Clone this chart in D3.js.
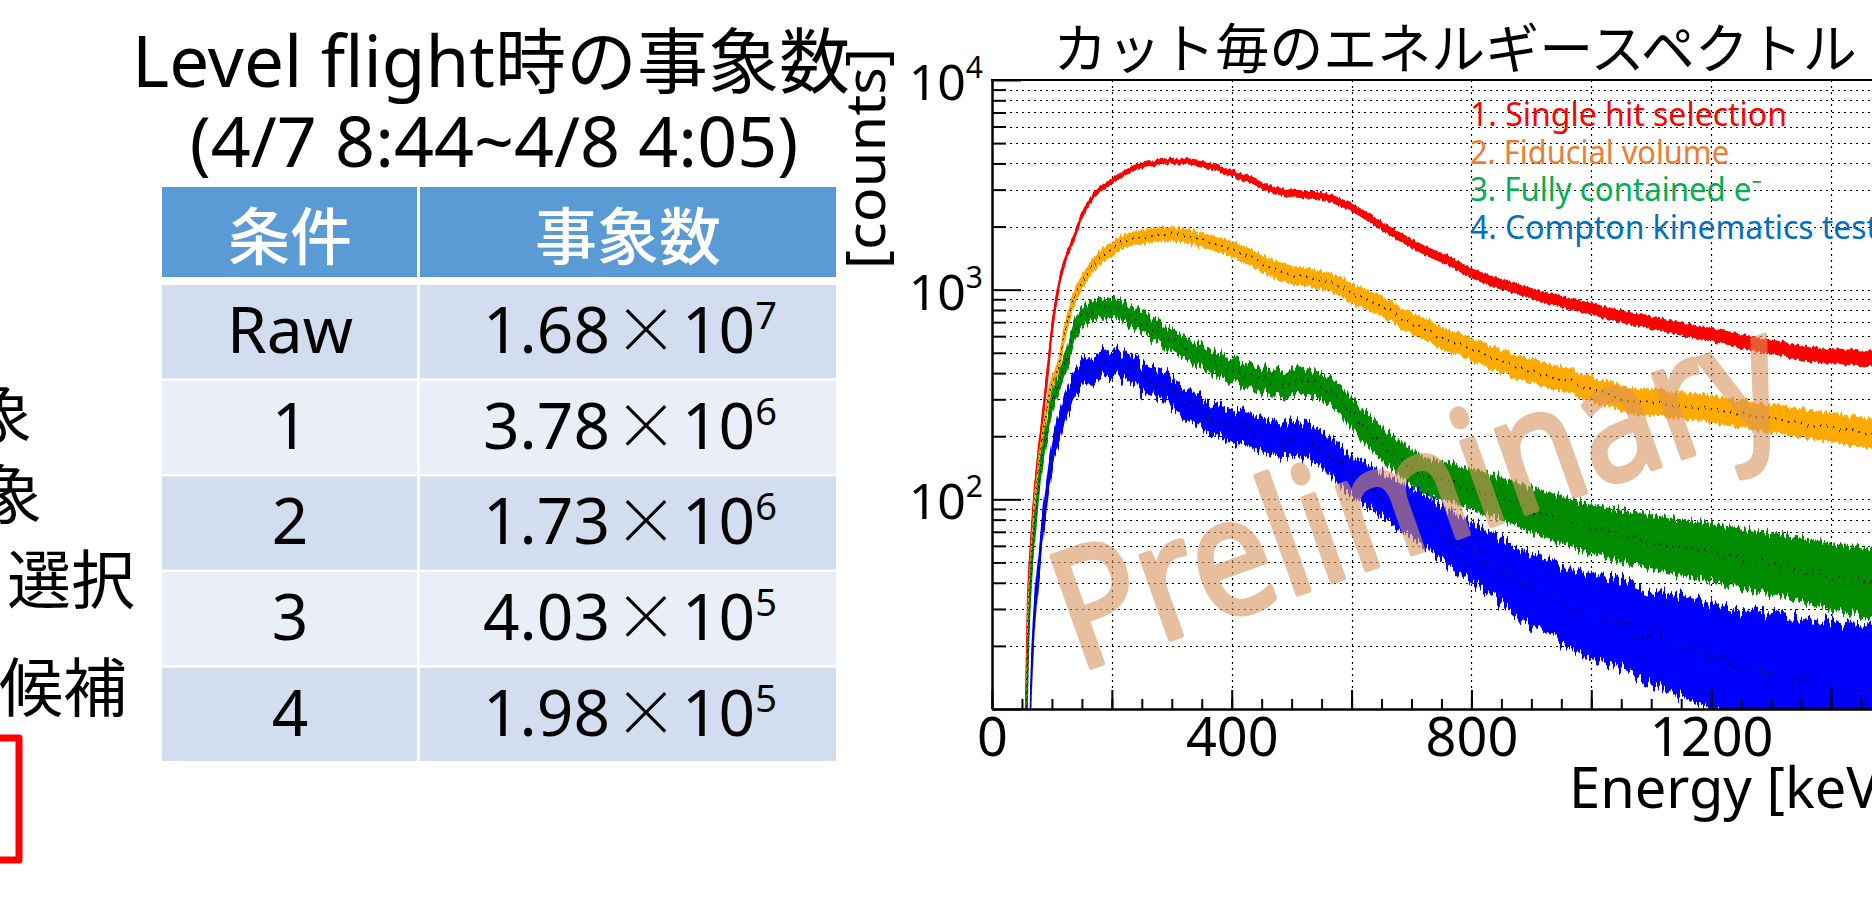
<!DOCTYPE html>
<html>
<head>
<meta charset="utf-8">
<script src="https://cdn.jsdelivr.net/npm/d3@7"></script>
<style>
  body { margin: 0; background: #fff; }
  svg { display: block; }
</style>
</head>
<body>
<svg id="slide" width="1872" height="900"></svg>
<script>
// ---- table values ----
var conditions = ["Raw", "1", "2", "3", "4"];
var countMantissa = ["1.68", "3.78", "1.73", "4.03", "1.98"];
var countExponent = ["7", "6", "6", "5", "5"];
var tableHeaders = ["条件", "事象数"];
var sideNotes = ["象", "象", "選択", "候補"];

// ---- spectra (keV, counts per bin) ----
var energies = [55, 60, 65, 70, 80, 90, 100, 110, 120, 135, 150, 165, 180, 200, 220, 250, 280, 310, 340, 370,
                400, 430, 460, 490, 520, 550, 580, 610, 640, 680, 720, 760, 800, 850, 900, 950, 1000, 1050, 1100, 1150,
                1200, 1250, 1300, 1350, 1400, 1450, 1480];
var singleHit = [5, 31, 60, 98, 190, 340, 640, 1000, 1330, 1720, 2250, 2700, 3000, 3300, 3580, 3950, 4070, 4080, 4000, 3850,
                 3580, 3330, 3050, 2900, 2850, 2800, 2620, 2380, 2100, 1790, 1550, 1380, 1200, 1060, 960, 875, 810, 745, 695, 650,
                 610, 570, 535, 500, 485, 470, 460];
var fiducial = [3, 25, 50, 85, 160, 250, 360, 420, 600, 880, 1080, 1260, 1420, 1560, 1700, 1780, 1840, 1830, 1760, 1660,
                1560, 1430, 1290, 1200, 1150, 1110, 1040, 930, 860, 745, 650, 575, 520, 458, 412, 373, 337, 305, 288, 280,
                268, 255, 243, 232, 220, 209, 204];
var fullyContained = [3, 18, 40, 65, 130, 200, 280, 350, 420, 600, 740, 790, 800, 810, 770, 700, 620, 545, 500, 455,
                      415, 385, 365, 350, 365, 345, 300, 240, 195, 158, 130, 122, 112, 101, 89, 80, 72, 67, 63, 59,
                      56, 52, 49, 46, 43, 41, 40];
var comptonTest = [2, 3, 12, 25, 55, 100, 160, 215, 270, 340, 390, 415, 445, 455, 430, 375, 350, 315, 270, 240,
                   222, 210, 200, 195, 190, 175, 145, 125, 110, 93, 80, 66, 56, 46, 37, 32, 28, 25, 22, 20,
                   18, 16, 15, 14, 13, 12.3, 12];
// half width of the noisy band, in decades
var singleHitSpread = [0.01, 0.01, 0.01, 0.01, 0.01, 0.01, 0.01, 0.01, 0.01, 0.01, 0.01, 0.01, 0.01, 0.01, 0.01, 0.01, 0.01, 0.01, 0.012, 0.012,
                       0.012, 0.014, 0.014, 0.014, 0.015, 0.015, 0.016, 0.016, 0.017, 0.018, 0.018, 0.02, 0.02, 0.022, 0.022, 0.024, 0.025, 0.026, 0.027, 0.028,
                       0.028, 0.03, 0.03, 0.032, 0.032, 0.034, 0.034];
var fiducialSpread = [0.03, 0.03, 0.03, 0.03, 0.03, 0.03, 0.03, 0.03, 0.03, 0.03, 0.03, 0.03, 0.03, 0.03, 0.03, 0.03, 0.03, 0.03, 0.03, 0.032,
                      0.034, 0.036, 0.038, 0.04, 0.04, 0.04, 0.042, 0.044, 0.045, 0.046, 0.048, 0.05, 0.05, 0.052, 0.054, 0.055, 0.056, 0.058, 0.06, 0.06,
                      0.062, 0.062, 0.064, 0.065, 0.066, 0.068, 0.068];
var fullyContainedSpread = [0.04, 0.04, 0.04, 0.04, 0.04, 0.04, 0.04, 0.04, 0.045, 0.045, 0.045, 0.045, 0.045, 0.045, 0.045, 0.048, 0.05, 0.05, 0.05, 0.052,
                            0.055, 0.055, 0.058, 0.06, 0.06, 0.06, 0.065, 0.07, 0.075, 0.08, 0.085, 0.09, 0.095, 0.1, 0.105, 0.11, 0.115, 0.12, 0.125, 0.13,
                            0.135, 0.14, 0.145, 0.15, 0.155, 0.16, 0.16];
var comptonTestSpread = [0.05, 0.05, 0.05, 0.05, 0.05, 0.055, 0.055, 0.06, 0.06, 0.06, 0.06, 0.06, 0.06, 0.06, 0.06, 0.065, 0.065, 0.07, 0.07, 0.07,
                         0.075, 0.075, 0.08, 0.08, 0.08, 0.085, 0.09, 0.095, 0.1, 0.11, 0.12, 0.13, 0.14, 0.15, 0.17, 0.18, 0.2, 0.21, 0.22, 0.24,
                         0.25, 0.26, 0.28, 0.29, 0.3, 0.3, 0.3];

var legendLabels = ["1. Single hit selection", "2. Fiducial volume", "3. Fully contained e\u207B", "4. Compton kinematics test"];
var legendColors = ["#ff0000", "#ed7d31", "#00b050", "#0070c0"];

// ticks
var yTicksMajor = [100, 1000, 10000];
var yTicksMinor = [20, 30, 40, 50, 60, 70, 80, 90, 200, 300, 400, 500, 600, 700, 800, 900, 2000, 3000, 4000, 5000, 6000, 7000, 8000, 9000];
var xTicksMajor = [0, 200, 400, 600, 800, 1000, 1200, 1400, 1600, 1800, 2000];
var xTicksMinor = d3.range(0, 2001, 50);
var xTickLabels = [0, 400, 800, 1200, 1600];

var cjk = "'Noto Sans CJK JP', sans-serif";
var latin = "'Noto Sans', 'Noto Sans CJK JP', sans-serif";

var svg = d3.select("#slide");
svg.append("rect").attr("width", 1872).attr("height", 900).attr("fill", "#fff");
var defs = svg.append("defs");

// ---------------- left part: text fragments + table ----------------
var noteRight = [32, 42, 135, 127];
var noteBase = [437, 518, 603, 711];
svg.append("g")
    .attr("font-family", cjk)
    .attr("font-size", 64)
    .attr("text-anchor", "end")
  .selectAll("text")
  .data(sideNotes)
  .enter()
  .append("text")
    .attr("x", (d, i) => noteRight[i])
    .attr("y", (d, i) => noteBase[i])
    .text(d => d);

svg.append("path")
    .attr("d", "M0,738H19V860H0")
    .attr("fill", "none")
    .attr("stroke", "#ff0000")
    .attr("stroke-width", 7)
    .attr("stroke-linejoin", "round");

svg.append("text")
    .attr("x", 491)
    .attr("y", 87)
    .attr("text-anchor", "middle")
    .attr("font-family", latin)
    .attr("font-size", 71)
    .text("Level flight時の事象数");

svg.append("text")
    .attr("x", 494)
    .attr("y", 167)
    .attr("text-anchor", "middle")
    .attr("font-family", latin)
    .attr("font-size", 70)
    .text("(4/7 8:44~4/8 4:05)");

var colX = [162, 420];
var colW = [255, 416];
var colMid = [290, 628];

var table = svg.append("g");

table.selectAll(".head")
  .data(tableHeaders)
  .enter()
  .append("rect")
    .attr("x", (d, i) => colX[i])
    .attr("y", 187)
    .attr("width", (d, i) => colW[i])
    .attr("height", 90)
    .attr("fill", "#5b9bd5");

table.selectAll(".headText")
  .data(tableHeaders)
  .enter()
  .append("text")
    .attr("x", (d, i) => colMid[i])
    .attr("y", 260)
    .attr("text-anchor", "middle")
    .attr("font-family", cjk)
    .attr("font-weight", 500)
    .attr("font-size", 62)
    .attr("fill", "#fff")
    .text(d => d);

var rowScale = d3.scaleBand()
    .domain(conditions)
    .range([285, 761])
    .paddingInner(0.025);

var rows = table.selectAll(".row")
  .data(conditions)
  .enter()
  .append("g");

[0, 1].forEach(function(c) {
  rows.append("rect")
      .attr("x", colX[c])
      .attr("y", d => rowScale(d))
      .attr("width", colW[c])
      .attr("height", rowScale.bandwidth())
      .attr("fill", (d, i) => i % 2 === 0 ? "#d2deef" : "#eaeff7");
});

rows.append("text")
    .attr("x", colMid[0])
    .attr("y", d => rowScale(d) + 68)
    .attr("text-anchor", "middle")
    .attr("font-family", latin)
    .attr("font-size", 64)
    .text(d => d);

var countText = rows.append("text")
    .attr("x", colMid[1] + 2)
    .attr("y", d => rowScale(d) + 68)
    .attr("text-anchor", "middle")
    .attr("font-family", latin)
    .attr("font-size", 64);
countText.append("tspan").text((d, i) => countMantissa[i]);
countText.append("tspan").attr("font-family", cjk).attr("font-weight", 300).attr("dx", 4).text("×");
countText.append("tspan").attr("dx", 4).text("10");
countText.append("tspan").attr("font-size", 38).attr("dy", -24).text((d, i) => countExponent[i]);

// ---------------- right part: spectrum ----------------
var plot = { left: 992, top: 80, bottom: 709 };
var pxPerKeV = (1831 - 992) / 1400;

var x = d3.scaleLinear()
    .domain([0, 2000])
    .range([plot.left, plot.left + 2000 * pxPerKeV]);

var y = d3.scaleLog()
    .domain([10, 10000])
    .range([plot.bottom, plot.top]);

defs.append("clipPath")
    .attr("id", "plotClip")
  .append("rect")
    .attr("x", plot.left)
    .attr("y", plot.top)
    .attr("width", 1872 - plot.left)
    .attr("height", plot.bottom - plot.top);

// bin-to-bin jitter look: shift columns of the band up/down a little
function addJitter(id, amount, seed) {
  var f = defs.append("filter")
      .attr("id", id)
      .attr("x", "-5%").attr("y", "-20%")
      .attr("width", "110%").attr("height", "140%");
  f.append("feTurbulence")
      .attr("type", "fractalNoise")
      .attr("baseFrequency", "0.45 0.004")
      .attr("numOctaves", 1)
      .attr("seed", seed)
      .attr("result", "noise");
  f.append("feColorMatrix")
      .attr("in", "noise")
      .attr("type", "matrix")
      .attr("values", "0 0 0 0 0.5  0 1 0 0 0  0 0 0 0 0  0 0 0 0 1")
      .attr("result", "shift");
  f.append("feDisplacementMap")
      .attr("in", "SourceGraphic")
      .attr("in2", "shift")
      .attr("scale", amount)
      .attr("xChannelSelector", "R")
      .attr("yChannelSelector", "G");
}

// dotted grid
var grid = svg.append("g")
    .attr("clip-path", "url(#plotClip)")
    .attr("stroke", "#000")
    .attr("stroke-width", 1.2)
    .attr("stroke-dasharray", "2,4");

grid.selectAll(".hgrid")
  .data(yTicksMajor.concat(yTicksMinor).filter(v => v < 10000))
  .enter()
  .append("line")
    .attr("x1", plot.left)
    .attr("x2", 1872)
    .attr("y1", d => Math.round(y(d)) + 0.5)
    .attr("y2", d => Math.round(y(d)) + 0.5);

grid.selectAll(".vgrid")
  .data(xTicksMajor.filter(v => v > 0))
  .enter()
  .append("line")
    .attr("x1", d => Math.round(x(d)) + 0.5)
    .attr("x2", d => Math.round(x(d)) + 0.5)
    .attr("y1", plot.top)
    .attr("y2", plot.bottom);

// histograms
var series = [
  { values: singleHit, spread: singleHitSpread, color: "#ff0000", dots: false, jitter: 7 },
  { values: fiducial, spread: fiducialSpread, color: "#ffaa00", dots: true, jitter: 12 },
  { values: fullyContained, spread: fullyContainedSpread, color: "#008c00", dots: true, jitter: 22 },
  { values: comptonTest, spread: comptonTestSpread, color: "#0000ff", dots: true, jitter: 30 }
];

var hist = svg.append("g").attr("clip-path", "url(#plotClip)");

var band = d3.area()
    .curve(d3.curveMonotoneX)
    .x(d => x(d.e))
    .y0(d => y(d.v / Math.pow(10, d.s)))
    .y1(d => y(d.v * Math.pow(10, d.s)));

var centre = d3.line()
    .curve(d3.curveMonotoneX)
    .x(d => x(d.e))
    .y(d => y(d.v));

series.forEach(function(s, k) {
  var pts = energies.map((e, i) => ({ e: e, v: s.values[i], s: s.spread[i] }));
  addJitter("jitter" + k, s.jitter, k + 3);
  var g = hist.append("g").attr("filter", "url(#jitter" + k + ")");
  g.append("path")
      .attr("d", band(pts))
      .attr("fill", s.color)
      .attr("stroke", s.color)
      .attr("stroke-width", 1.5);
  g.append("path")
      .attr("d", centre(pts))
      .attr("fill", "none")
      .attr("stroke", s.dots ? "#000" : s.color)
      .attr("stroke-width", s.dots ? 1.6 : 2.5)
      .attr("stroke-dasharray", s.dots ? "1.5,5" : null);
});

// axes
function styleAxis(g) {
  g.select(".domain").attr("stroke-width", 2);
  g.selectAll(".tick line").attr("stroke-width", 2);
}

svg.append("g")
    .attr("transform", "translate(0," + plot.bottom + ")")
    .call(d3.axisBottom(x).tickValues(xTicksMinor).tickSizeInner(-10).tickSizeOuter(0).tickFormat(""))
    .call(styleAxis);

var xAxis = svg.append("g")
    .attr("transform", "translate(0," + plot.bottom + ")")
    .call(d3.axisBottom(x)
            .tickValues(xTicksMajor)
            .tickSizeInner(-19)
            .tickSizeOuter(0)
            .tickPadding(9)
            .tickFormat(d => xTickLabels.indexOf(d) >= 0 ? d : ""))
    .call(styleAxis);
xAxis.attr("font-size", 54).attr("font-family", latin);
xAxis.selectAll(".tick text").attr("fill", "#000");

svg.append("g")
    .attr("transform", "translate(" + plot.left + ",0)")
    .call(d3.axisLeft(y).tickValues(yTicksMinor).tickSizeInner(-14).tickSizeOuter(0).tickFormat(""))
    .call(styleAxis);

svg.append("g")
    .attr("transform", "translate(" + plot.left + ",0)")
    .call(d3.axisLeft(y).tickValues([10].concat(yTicksMajor)).tickSizeInner(-29).tickSizeOuter(0).tickFormat(""))
    .call(styleAxis);

// top frame
svg.append("line")
    .attr("x1", plot.left - 1)
    .attr("x2", 1872)
    .attr("y1", plot.top)
    .attr("y2", plot.top)
    .attr("stroke", "#000")
    .attr("stroke-width", 2);

// y tick labels 10^n
var yLabels = svg.append("g")
    .attr("font-family", latin)
    .attr("text-anchor", "end");
yTicksMajor.forEach(function(v) {
  var t = yLabels.append("text")
      .attr("x", 983)
      .attr("y", y(v) + 20)
      .attr("font-size", 50);
  t.append("tspan").text("10");
  t.append("tspan").attr("font-size", 30).attr("dy", -22).text(Math.round(Math.log10(v)));
});

// titles
svg.append("text")
    .attr("x", 1455)
    .attr("y", 69)
    .attr("text-anchor", "middle")
    .attr("font-family", cjk)
    .attr("font-size", 54)
    .text("カット毎のエネルギースペクトル");

svg.append("text")
    .attr("transform", "translate(885,48) rotate(-90)")
    .attr("text-anchor", "end")
    .attr("font-family", latin)
    .attr("font-size", 54)
    .attr("textLength", 221)
    .attr("lengthAdjust", "spacingAndGlyphs")
    .text("[counts]");

svg.append("text")
    .attr("x", 1569)
    .attr("y", 808)
    .attr("font-family", latin)
    .attr("font-size", 56)
    .text("Energy [keV]");

// legend
var legendWidth = [317, 259, 292, 408];
svg.append("g")
    .attr("font-family", latin)
    .attr("font-size", 32)
  .selectAll("text")
  .data(legendLabels)
  .enter()
  .append("text")
    .attr("x", 1470)
    .attr("y", (d, i) => 126 + i * 37.7)
    .attr("fill", (d, i) => legendColors[i])
    .attr("textLength", (d, i) => legendWidth[i])
    .attr("lengthAdjust", "spacingAndGlyphs")
    .text(d => d);

// watermark
svg.append("g")
    .attr("opacity", 0.6)
  .append("text")
    .attr("transform", "translate(1078,672) rotate(-19.5)")
    .attr("font-family", latin)
    .attr("font-size", 165)
    .attr("textLength", 760)
    .attr("lengthAdjust", "spacingAndGlyphs")
    .attr("fill", "#d9955f")
    .attr("stroke", "#d9955f")
    .attr("stroke-width", 5)
    .attr("stroke-linejoin", "round")
    .text("Preliminary");
</script>
</body>
</html>
